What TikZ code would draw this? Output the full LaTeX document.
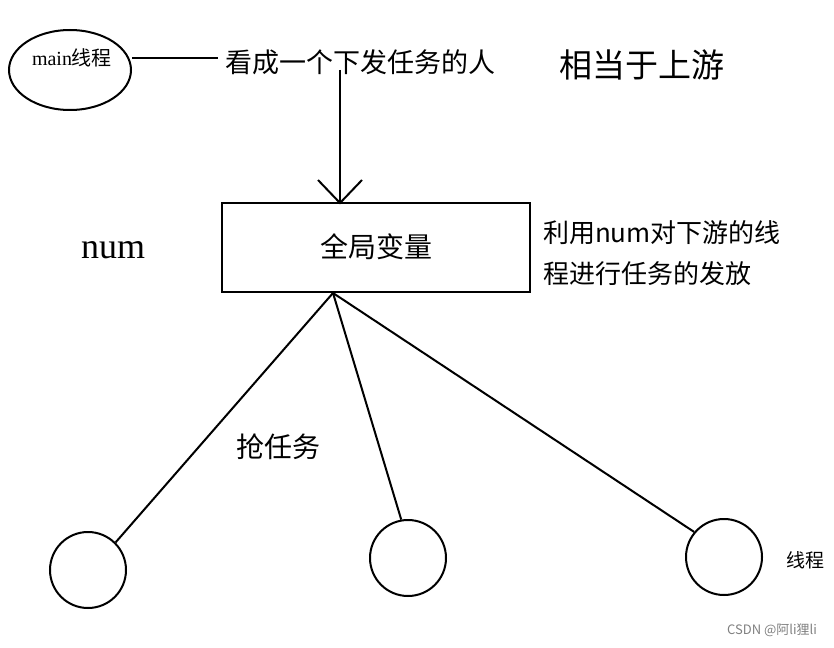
\documentclass[tikz,border=0pt]{standalone}
\usepackage{fontspec}
\setmainfont{Liberation Serif}
\newfontfamily\cjk{Noto Sans CJK SC}
\usetikzlibrary{shapes.geometric, positioning}
\tikzset{
  thread/.style={draw, circle, line width=2pt, minimum size=76pt, inner sep=0pt},
  label/.style={inner sep=0pt, anchor=west},
}
\begin{document}
\begin{tikzpicture}[x=1pt, y=-1pt, line width=2pt]
\useasboundingbox (0,0) rectangle (834,647);
\node[draw, ellipse, line width=2pt, minimum width=122pt, minimum height=80pt, inner sep=0pt] (main) at (70,70) {};
\node[inner sep=0pt] (mainT) at (72,58) {\fontsize{20}{24}\selectfont main{\cjk 线程}};
\node[label, font=\cjk\fontsize{27}{32}\selectfont] (boss) at (224,62) {看成一个下发任务的人};
\node[label, font=\cjk\fontsize{33}{38}\selectfont] (up) at (558,65) {相当于上游};
\coordinate (wire) at (218,58);
\draw (main.east |- wire) -- (wire);
\node[draw, line width=2pt, minimum width=308pt, minimum height=89pt, inner sep=0pt, font=\cjk\fontsize{28}{32}\selectfont] (glob) at (376,247) {全局变量};
\coordinate (drop) at (340,70);
\coordinate (land) at (340,203);
\draw (drop) -- (land);
\draw (318,180) -- (land) -- (362,180);
\node[inner sep=0pt] (num) at (113,250) {\fontsize{36}{40}\selectfont num};
\node[label, align=left, font=\cjk\fontsize{26}{41}\selectfont] (note) at (542,253) {利用num对下游的线\\程进行任务的发放};
\node[thread] (t1) at (88,570) {};
\node[thread] (t2) at (408,558) {};
\node[thread] (t3) at (724,557) {};
\coordinate (hub) at (333,293);
\draw (hub) -- (t1.45);
\draw (hub) -- (t2.100);
\draw (hub) -- (t3.140);
\node[inner sep=0pt, font=\cjk\fontsize{28}{32}\selectfont] (grab) at (278,447) {抢任务};
\node[inner sep=0pt, font=\cjk\fontsize{19}{22}\selectfont] (tname) at (805,560) {线程};
\node[inner sep=0pt, text=gray, font=\cjk\fontsize{13}{15}\selectfont] (mark) at (772,630) {CSDN @阿li狸li};
\end{tikzpicture}
\end{document}
